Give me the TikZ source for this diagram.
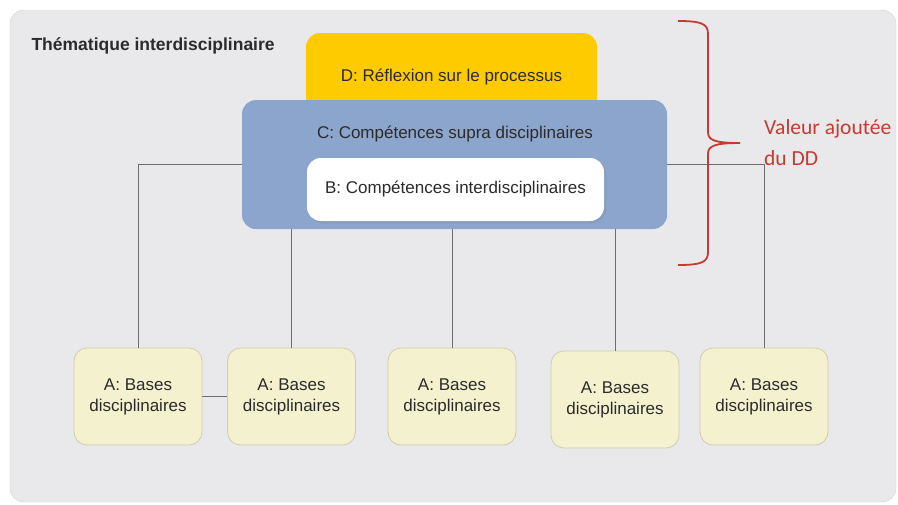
\documentclass[tikz,border=0pt]{standalone}
\usepackage{fontspec}
\setmainfont{Liberation Sans}
\newfontfamily\carlito{Carlito}
\usetikzlibrary{positioning,shadows}
\definecolor{panelgray}{HTML}{E9E9EC}
\definecolor{panelborder}{HTML}{D3D3D6}
\definecolor{dyellow}{HTML}{FECB00}
\definecolor{cblue}{HTML}{8CA5CD}
\definecolor{basefill}{HTML}{F4F2CE}
\definecolor{baseborder}{HTML}{CFCDB0}
\definecolor{linegray}{HTML}{6E6E6E}
\definecolor{textgray}{HTML}{2B2B2B}
\definecolor{ddred}{HTML}{C63A2F}
\tikzset{
	boxtext/.style={text=textgray, font=\fontsize{17}{21}\selectfont, align=center},
	base/.style={boxtext, draw=baseborder, fill=basefill, rounded corners=13pt, minimum width=128pt, minimum height=97pt, line width=0.8pt},
	link/.style={draw=linegray, line width=1pt},
	brace/.style={draw=ddred, line width=1.8pt},
}
\begin{document}
\begin{tikzpicture}[x=1pt, y=-1pt]
		\useasboundingbox (0,0) rectangle (898,504);
		\draw[rounded corners=14pt, draw=panelborder, fill=panelgray] (10,10) rectangle (896,502);
		\node[anchor=west, text=textgray, font=\bfseries\fontsize{17.5}{21}\selectfont] (titre) at (28,46) {Thématique interdisciplinaire};
		
		% les bases disciplinaires
		\foreach \n/\x/\y in {1/138/396.5, 2/291.5/396.5, 3/452/396.5, 4/615/399.5, 5/764/396.5}
		{
			\node[base] (A\n) at (\x,\y) {A: Bases\\disciplinaires};
		}
		
		% les blocs du haut
		\node[fill=dyellow, rounded corners=14pt, minimum width=291pt, minimum height=88pt, boxtext] (D) at (451.5,77) {D: Réflexion sur le processus};
		\node[fill=cblue, rounded corners=14pt, minimum width=425pt, minimum height=129pt] (C) at (454.5,164.5) {};
		\node[boxtext] (Ctext) at (455,134) {C: Compétences supra disciplinaires};
		\node[fill=white, rounded corners=14pt, minimum width=297pt, minimum height=63pt, boxtext, drop shadow={shadow xshift=2pt, shadow yshift=-2pt, opacity=0.25}] (B) at (455.5,189.5) {B: Compétences interdisciplinaires};
		
		% les liens
		\draw[link] (C.west) -| (A1.north);
		\draw[link] (C.east) -| (A5.north);
		\foreach \n in {2,3,4}
		{
			\draw[link] (A\n.north |- C.south) -- (A\n.north);
		}
		\draw[link] (A1.east) -- (A2.west);
		
		% accolade
		\draw[brace] (678,21) .. controls (702,21) and (708,24) .. (708,34) -- (708,132) .. controls (708,140) and (714,143) .. (740,143);
		\draw[brace] (740,143) .. controls (714,143) and (708,146) .. (708,154) -- (708,252) .. controls (708,262) and (702,265) .. (678,265);
		\node[anchor=west, text=ddred, align=left, inner sep=0pt, font=\carlito\fontsize{21.5}{31}\selectfont] (valeur) at (764,143) {Valeur ajoutée\\du DD};
	\end{tikzpicture}
\end{document}
